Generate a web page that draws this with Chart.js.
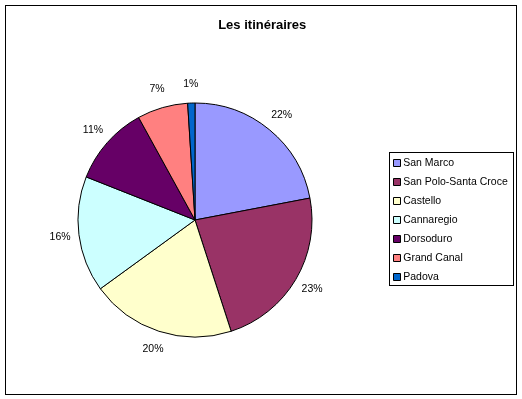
<!DOCTYPE html>
<html>
<head>
<meta charset="utf-8">
<title>Les itinéraires</title>
<style>
  html, body { margin: 0; padding: 0; background: #fff; }
  canvas { display: block; }
</style>
<script src="https://cdn.jsdelivr.net/npm/chart.js@4.4.2/dist/chart.umd.min.js"></script>
</head>
<body>
<canvas id="pie" width="522" height="399"></canvas>
<script>
// ---------- DATA ----------
const CHART_TITLE = "Les itinéraires";
const quartiers   = ["San Marco", "San Polo-Santa Croce", "Castello", "Cannaregio",
                     "Dorsoduro", "Grand Canal", "Padova"];
const parts       = [22, 23, 20, 16, 11, 7, 1];
const couleurs    = ["#9999FF", "#993366", "#FFFFCC", "#CCFFFF",
                     "#660066", "#FF8080", "#0066CC"];

const FONT = "'Liberation Sans', Arial, sans-serif";
const LEGEND_WIDTH = 134.5;

// ---------- PLUGINS ----------
// outer frame of the chart (Excel style)
const frame = {
  id: "frame",
  beforeDraw(chart) {
    const ctx = chart.ctx;
    ctx.save();
    ctx.fillStyle = "#fff";
    ctx.fillRect(0, 0, chart.width, chart.height);
    ctx.strokeStyle = "#000";
    ctx.lineWidth = 1;
    ctx.strokeRect(5.5, 5.5, chart.width - 11, chart.height - 10);
    ctx.restore();
  }
};

// fixed legend width so the pie keeps its place
const legendWidth = {
  id: "legendWidth",
  beforeInit(chart) {
    const fit = chart.legend.fit;
    chart.legend.fit = function () {
      fit.bind(chart.legend)();
      this.width = LEGEND_WIDTH;
    };
  }
};

// box around the legend
const legendBox = {
  id: "legendBox",
  afterDraw(chart) {
    const lg = chart.legend;
    const hb = lg && lg.legendHitBoxes;
    if (!hb || !hb.length) return;
    const last = hb[hb.length - 1];
    const top    = Math.floor(hb[0].top - 5) + 0.5;
    const bottom = Math.floor(last.top + last.height + 3) + 0.5;
    const left   = Math.floor(hb[0].left - 7) + 0.5;
    const right  = Math.floor(lg.right - 9) + 0.5;
    const ctx = chart.ctx;
    ctx.save();
    ctx.strokeStyle = "#000";
    ctx.lineWidth = 1;
    ctx.strokeRect(left, top, right - left, bottom - top);
    ctx.restore();
  }
};

// percentage labels outside each slice
const pctLabels = {
  id: "pctLabels",
  afterDatasetsDraw(chart) {
    const meta  = chart.getDatasetMeta(0);
    const data  = chart.data.datasets[0].data;
    const total = data.reduce((a, b) => a + b, 0);
    const ctx = chart.ctx;
    ctx.save();
    ctx.font = "10.5px " + FONT;
    ctx.fillStyle = "#000";
    ctx.textAlign = "center";
    ctx.textBaseline = "middle";
    meta.data.forEach((arc, i) => {
      const p = arc.getProps(["x", "y", "startAngle", "endAngle", "outerRadius"], true);
      const mid = (p.startAngle + p.endAngle) / 2;
      const r = p.outerRadius + 19;
      const txt = Math.round(data[i] / total * 100) + "%";
      ctx.fillText(txt, p.x + Math.cos(mid) * r, p.y + Math.sin(mid) * r);
    });
    ctx.restore();
  }
};

// ---------- CHART ----------
new Chart(document.getElementById("pie"), {
  type: "pie",
  data: {
    labels: quartiers,
    datasets: [{
      data: parts,
      backgroundColor: couleurs,
      borderColor: "#000",
      borderWidth: 1,
      hoverOffset: 0,
      radius: 117
    }]
  },
  options: {
    responsive: false,
    animation: false,
    events: [],
    layout: { padding: { top: 5, left: 2.5, right: 0, bottom: 19 } },
    plugins: {
      title: {
        display: true,
        text: CHART_TITLE,
        color: "#000",
        font: { family: FONT, size: 13, weight: "bold", lineHeight: 1.2 },
        padding: { top: 12.2, bottom: 27.2 }
      },
      legend: {
        display: true,
        position: "right",
        fullSize: false,
        labels: {
          color: "#000",
          font: { family: FONT, size: 10.5 },
          usePointStyle: true,
          pointStyle: "rect",
          boxWidth: 2,
          boxHeight: 7,
          padding: 8.5
        }
      },
      tooltip: { enabled: false }
    }
  },
  plugins: [frame, legendWidth, legendBox, pctLabels]
});
</script>
</body>
</html>
